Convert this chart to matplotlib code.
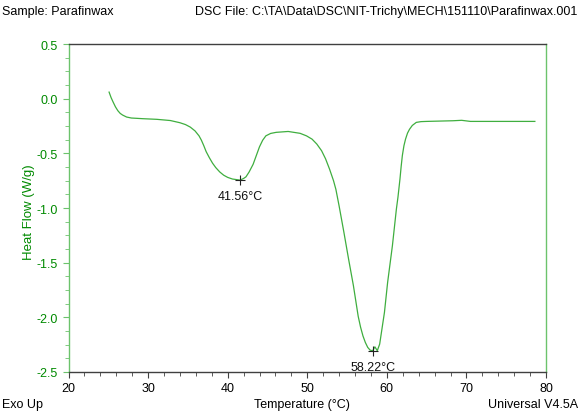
import matplotlib
matplotlib.use("Agg")
import matplotlib.pyplot as plt
from matplotlib.ticker import MultipleLocator, FormatStrFormatter

plt.rcParams['font.family'] = ['Liberation Sans', 'DejaVu Sans']
plt.rcParams['axes.unicode_minus'] = False

# DSC curve (temperature in degC, heat flow in W/g)
temp = [25.1, 25.35, 25.6, 25.9, 26.2, 26.5, 26.8, 27.3, 27.9, 29.3,
        31.1, 32.8, 34.0, 34.7, 35.3, 35.9, 36.4, 36.7, 37.0, 37.3,
        37.7, 38.1, 38.5, 39.0, 39.5, 40.0, 40.6, 41.55, 42.0, 42.3,
        42.7, 43.2, 43.6, 44.0, 44.4, 44.8, 45.4, 46.1, 47.6, 49.1,
        49.9, 50.6, 51.2, 51.8, 52.3, 52.8, 53.3, 53.6, 54.0, 54.6,
        55.2, 55.8, 56.4, 56.7, 57.0, 57.3, 57.6, 57.9, 58.22, 58.5,
        58.8, 59.1, 59.7, 60.1, 60.7, 61.2, 61.4, 61.65, 61.8, 61.95,
        62.15, 62.35, 62.6, 62.85, 63.2, 63.7, 64.3, 65.0, 68.3, 69.4,
        70.5, 73.8, 78.6]
heat = [0.06, 0.01, -0.03, -0.075, -0.11, -0.135, -0.15, -0.168, -0.177, -0.183,
        -0.189, -0.20, -0.22, -0.237, -0.26, -0.295, -0.34, -0.38, -0.43, -0.485,
        -0.54, -0.59, -0.63, -0.67, -0.70, -0.72, -0.735, -0.745, -0.73, -0.715,
        -0.67, -0.60, -0.52, -0.44, -0.38, -0.34, -0.318, -0.308, -0.30, -0.317,
        -0.34, -0.37, -0.415, -0.476, -0.55, -0.644, -0.75, -0.83, -0.98, -1.22,
        -1.47, -1.71, -1.99, -2.09, -2.17, -2.23, -2.275, -2.30, -2.306, -2.27,
        -2.305, -2.245, -1.955, -1.68, -1.345, -1.01, -0.90, -0.735, -0.62, -0.52,
        -0.43, -0.37, -0.315, -0.28, -0.245, -0.217, -0.21, -0.208, -0.202, -0.198,
        -0.208, -0.208, -0.208]

peak_t = [41.56, 58.22]
peak_h = [-0.745, -2.306]
peak_lbl = ["41.56°C", "58.22°C"]

green = '#008a00'
curve_green = '#3fae3f'
spine_green = '#6cc36c'

fig = plt.figure(figsize=(5.8, 4.14), dpi=100)
ax = fig.add_axes([68.5 / 580, 1 - 373 / 414, (546 - 68.5) / 580, (373 - 45) / 414])

ax.plot(temp, heat, color=curve_green, lw=0.9)

for t, h, s in zip(peak_t, peak_h, peak_lbl):
    ax.plot([t], [h], marker='+', color='#222222', ms=7, mew=0.8)
    ax.annotate(s, (t, h), xytext=(0, -7), textcoords='offset points',
                ha='center', va='top', fontsize=9, color='#111111')

ax.set_xlim(20, 80)
ax.set_ylim(-2.5, 0.5)
ax.xaxis.set_major_locator(MultipleLocator(10))
ax.xaxis.set_minor_locator(MultipleLocator(2))
ax.yaxis.set_major_locator(MultipleLocator(0.5))
ax.yaxis.set_minor_locator(MultipleLocator(0.125))
ax.yaxis.set_major_formatter(FormatStrFormatter('%.1f'))

ax.spines['top'].set_color('#404040')
ax.spines['bottom'].set_color('#404040')
ax.spines['left'].set_color(spine_green)
ax.spines['right'].set_color(spine_green)
for sp in ax.spines.values():
    sp.set_linewidth(1.0)

ax.tick_params(axis='x', which='both', direction='out', colors='#404040',
               labelcolor='black', labelsize=9, top=False)
ax.tick_params(axis='x', which='major', length=4)
ax.tick_params(axis='x', which='minor', length=3)
ax.tick_params(axis='y', which='both', direction='out', colors=spine_green,
               labelcolor=green, labelsize=9, right=False)
ax.tick_params(axis='y', which='major', length=4)
ax.tick_params(axis='y', which='minor', length=3)

ax.set_ylabel("Heat Flow (W/g)", color=green, fontsize=9.5)
ax.yaxis.set_label_coords(-0.07, 0.49)

fig.text(0.004, 0.972, "Sample: Parafinwax", fontsize=9, va='center', ha='left')
fig.text(0.996, 0.972, "DSC File: C:\\TA\\Data\\DSC\\NIT-Trichy\\MECH\\151110\\Parafinwax.001",
         fontsize=9, va='center', ha='right')
fig.text(0.004, 0.022, "Exo Up", fontsize=9, va='center', ha='left')
fig.text(0.52, 0.022, "Temperature (°C)", fontsize=9, va='center', ha='center')
fig.text(0.996, 0.022, "Universal V4.5A", fontsize=9, va='center', ha='right')

fig.savefig("out.png", dpi=100)
